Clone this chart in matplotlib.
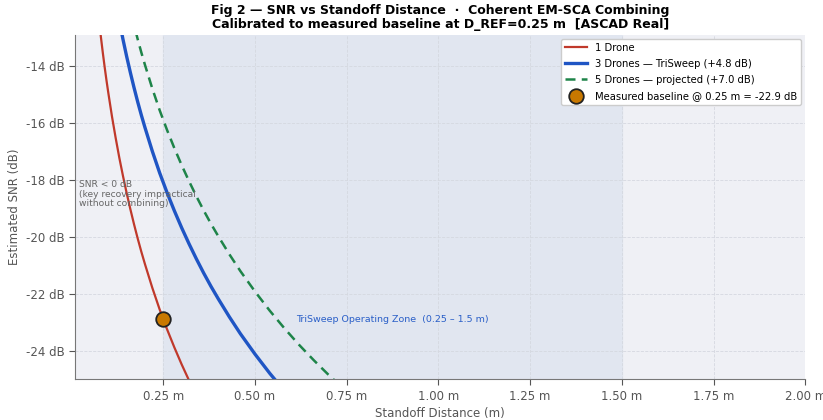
import matplotlib
matplotlib.use("Agg")
import matplotlib.pyplot as plt
from matplotlib.ticker import FuncFormatter

# standoff distances (m) and SNR (dB)
distance = [0.06, 0.065, 0.07, 0.075, 0.08, 0.085, 0.09, 0.095, 0.10, 0.11, 0.12, 0.13,
            0.14, 0.15, 0.16, 0.17, 0.18, 0.19, 0.20, 0.22, 0.24, 0.26, 0.28, 0.30,
            0.32, 0.34, 0.36, 0.38, 0.40, 0.43, 0.46, 0.50, 0.54, 0.58, 0.62, 0.66,
            0.70, 0.75, 0.80]
snr_1_drone = [-10.50, -11.20, -11.84, -12.44, -13.00, -13.53, -14.03, -14.50, -14.94, -15.77,
               -16.52, -17.22, -17.86, -18.46, -19.02, -19.55, -20.05, -20.52, -20.96, -21.79,
               -22.55, -23.24, -23.88, -24.48, -25.04, -25.57, -26.07, -26.54, -26.98, -27.61,
               -28.20, -28.92, -29.59, -30.21, -30.79, -31.33, -31.84, -32.44, -33.00]
snr_3_drones = [-5.70, -6.40, -7.04, -7.64, -8.20, -8.73, -9.23, -9.70, -10.14, -10.97,
                -11.72, -12.42, -13.06, -13.66, -14.22, -14.75, -15.25, -15.72, -16.16, -16.99,
                -17.75, -18.44, -19.08, -19.68, -20.24, -20.77, -21.27, -21.74, -22.18, -22.81,
                -23.40, -24.12, -24.79, -25.41, -25.99, -26.53, -27.04, -27.64, -28.20]
snr_5_drones = [-3.50, -4.20, -4.84, -5.44, -6.00, -6.53, -7.03, -7.50, -7.94, -8.77,
                -9.52, -10.22, -10.86, -11.46, -12.02, -12.55, -13.05, -13.52, -13.96, -14.79,
                -15.55, -16.24, -16.88, -17.48, -18.04, -18.57, -19.07, -19.54, -19.98, -20.61,
                -21.20, -21.92, -22.59, -23.21, -23.79, -24.33, -24.84, -25.44, -26.00]

baseline_distance = [0.25]
baseline_snr = [-22.9]
zone = [0.25, 1.5]

fig = plt.figure(figsize=(8.23, 4.2), dpi=100)
ax = fig.add_axes([0.0915, 0.097, 0.887, 0.82])
ax.set_facecolor("#eff0f5")

# operating zone
ax.axvspan(zone[0], zone[1], color="#e1e6f0", zorder=0)
ax.grid(True, linestyle="--", color="#d5d8e0", linewidth=0.6, zorder=1)
ax.set_axisbelow(True)

ax.plot(distance, snr_1_drone, color="#c0392b", lw=1.6, label="1 Drone", zorder=3)
ax.plot(distance, snr_3_drones, color="#1f55c4", lw=2.4, label="3 Drones \u2014 TriSweep (+4.8 dB)", zorder=3)
ax.plot(distance, snr_5_drones, color="#1e8449", lw=1.8, ls=(0, (4, 2.5)),
        label="5 Drones \u2014 projected (+7.0 dB)", zorder=3)
ax.scatter(baseline_distance, baseline_snr, s=110, color="#c87800", edgecolor="#222222",
           linewidth=1.3, zorder=5, label="Measured baseline @ 0.25 m = -22.9 dB")

ax.text((zone[0] + zone[1]) / 2, -22.9, "TriSweep Operating Zone  (0.25 \u2013 1.5 m)",
        color="#2a5fc8", fontsize=6.8, ha="center", va="center")
ax.text(0.02, -18.5, "SNR < 0 dB\n(key recovery impractical\nwithout combining)",
        color="#666666", fontsize=6.6, ha="left", va="center", linespacing=1.1)

ax.set_xlim(0.01, 2.0)
ax.set_ylim(-25, -12.9)
ax.set_xticks([0.25, 0.5, 0.75, 1.0, 1.25, 1.5, 1.75, 2.0])
ax.set_yticks([-24, -22, -20, -18, -16, -14])
ax.xaxis.set_major_formatter(FuncFormatter(lambda v, p: f"{v:.2f} m"))
ax.yaxis.set_major_formatter(FuncFormatter(lambda v, p: f"{v:.0f} dB"))
ax.tick_params(colors="#555555", labelsize=8.5, length=4)
ax.set_xlabel("Standoff Distance (m)", fontsize=8.5, color="#555555", labelpad=3)
ax.set_ylabel("Estimated SNR (dB)", fontsize=8.5, color="#555555")
for side in ["top", "right"]:
    ax.spines[side].set_visible(False)
for side in ["left", "bottom"]:
    ax.spines[side].set_color("#777777")

ax.set_title("Fig 2 \u2014 SNR vs Standoff Distance  \u00b7  Coherent EM-SCA Combining\n"
             "Calibrated to measured baseline at D_REF=0.25 m  [ASCAD Real]",
             fontsize=9, fontweight="bold", linespacing=1.05, pad=5)

leg = ax.legend(loc="upper right", fontsize=7.2, framealpha=1, edgecolor="#cccccc",
                fancybox=True, borderaxespad=0.4, handlelength=2.2, labelspacing=0.6)

fig.savefig("out.png", dpi=100)
